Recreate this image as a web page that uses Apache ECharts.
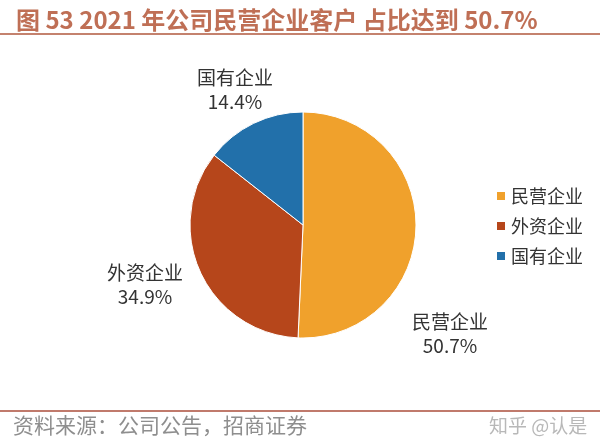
<!DOCTYPE html>
<html><head><meta charset="utf-8">
<script src="https://cdn.jsdelivr.net/npm/echarts@6/dist/echarts.min.js"></script>
<style>html,body{margin:0;padding:0;background:#fff}#c{width:600px;height:448px}</style>
</head><body><div id="c"></div>
<script>
var categories = ['民营企业', '外资企业', '国有企业'];
var values = [50.7, 34.9, 14.4];
var colors = ['#F0A12C', '#B6461B', '#2270AA'];
var titleText = '图 53 2021 年公司民营企业客户 占比达到 50.7%';
var sourceText = '资料来源：公司公告，招商证券';
var watermark = '知乎 @认是';

var labelPos = [[450, 334], [145, 285], [235, 90]];

var chart = echarts.init(document.getElementById('c'));
var font = '"Noto Sans CJK SC", "Noto Sans", sans-serif';
chart.setOption({
  animation: false,
  color: colors,
  title: {
    text: titleText, left: 11, top: 3,
    textStyle: { color: '#BF6F55', fontSize: 24, fontWeight: 'bold', fontFamily: font }
  },
  legend: {
    orient: 'vertical', left: 490, top: 182, itemWidth: 10, itemHeight: 10, itemGap: 12,
    icon: 'rect',
    textStyle: { fontSize: 18, color: '#333', fontFamily: font },
    data: categories
  },
  graphic: [
    { type: 'line', shape: { x1: 0, y1: 34, x2: 600, y2: 34 }, style: { stroke: '#C4826E', lineWidth: 2 } },
    { type: 'line', shape: { x1: 0, y1: 411, x2: 600, y2: 411 }, style: { stroke: '#C07A6C', lineWidth: 2 } },
    { type: 'text', left: 13, top: 415, style: { text: sourceText, fill: '#8E8E8E', font: '21px ' + font } },
    { type: 'text', left: 489, top: 416, style: { text: watermark, fill: '#B8B8B8', font: '19px ' + font } }
  ],
  series: [{
    type: 'pie',
    center: [303, 225],
    radius: [0, 113],
    startAngle: 90,
    clockwise: true,
    itemStyle: { borderColor: '#fff', borderWidth: 1 },
    label: {
      show: true, position: 'outside',
      formatter: function (p) { return p.name + '\n' + p.value.toFixed(1) + '%'; },
      fontSize: 19, lineHeight: 24, color: '#333', fontFamily: font, align: 'center'
    },
    labelLine: { show: false },
    labelLayout: function (params) {
      var p = labelPos[params.dataIndex];
      return { x: p[0], y: p[1], align: 'center', verticalAlign: 'middle' };
    },
    data: categories.map(function (c, i) { return { name: c, value: values[i] }; })
  }]
});
</script></body></html>
